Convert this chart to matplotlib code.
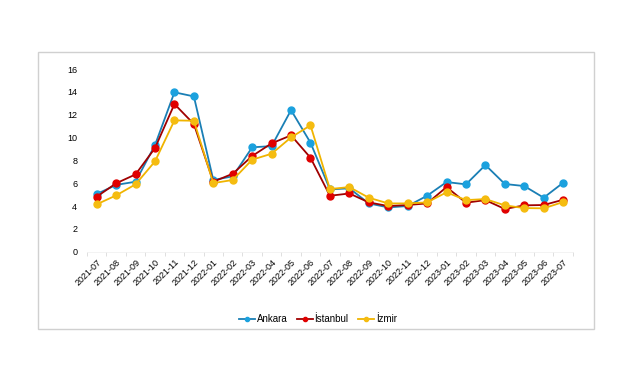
import matplotlib
matplotlib.use("Agg")
import matplotlib.pyplot as plt
from matplotlib.patches import Rectangle

plt.rcParams['font.family'] = ['Liberation Sans', 'DejaVu Sans']

months = ['2021-07', '2021-08', '2021-09', '2021-10', '2021-11', '2021-12',
          '2022-01', '2022-02', '2022-03', '2022-04', '2022-05', '2022-06',
          '2022-07', '2022-08', '2022-09', '2022-10', '2022-11', '2022-12',
          '2023-01', '2023-02', '2023-03', '2023-04', '2023-05', '2023-06', '2023-07']

ankara = [5.05, 5.85, 6.13, 9.34, 13.96, 13.6, 6.28, 6.6, 9.14, 9.25, 12.4, 9.55,
          5.46, 5.55, 4.23, 3.88, 4.0, 4.9, 6.1, 5.9, 7.59, 5.93, 5.75, 4.73, 6.04]
istanbul = [4.82, 5.99, 6.77, 9.08, 12.93, 11.18, 6.13, 6.83, 8.38, 9.49, 10.19, 8.23,
            4.9, 5.1, 4.32, 4.0, 4.09, 4.23, 5.66, 4.29, 4.52, 3.74, 4.06, 4.09, 4.55]
izmir = [4.15, 4.93, 5.9, 7.91, 11.5, 11.47, 6.01, 6.28, 8.06, 8.58, 10.01, 11.07,
         5.49, 5.66, 4.73, 4.23, 4.23, 4.32, 5.2, 4.52, 4.61, 4.06, 3.82, 3.8, 4.35]

yticks = [0, 2, 4, 6, 8, 10, 12, 14, 16]

fig = plt.figure(figsize=(6.41, 3.8), dpi=100)
fig.patches.append(Rectangle((38 / 641, 1 - 329 / 380), 556 / 641, 277 / 380,
                             transform=fig.transFigure, fill=False,
                             edgecolor='#d0d0d0', linewidth=1.0))

ax = fig.add_axes([0.1357, 0.3376, 0.758, 0.4808])
x = list(range(len(months)))

series = [
    ('Ankara', ankara, '#1a7fb5', '#1ba1de'),
    ('İstanbul', istanbul, '#a00000', '#e00000'),
    ('İzmir', izmir, '#f0b400', '#f5bc10'),
]
for name, vals, lc, mc in series:
    ax.plot(x, vals, color=lc, linewidth=1.3, marker='o', markersize=5,
            markerfacecolor=mc, markeredgecolor=mc, label=name)

ax.set_xlim(-0.5, len(months) - 0.5)
ax.set_ylim(0, 16)
ax.set_yticks(yticks)
ax.set_xticks(x)
ax.set_xticklabels(months, rotation=45, ha='right', rotation_mode='anchor', fontsize=6.5)
ax.set_xticks([i + 0.5 for i in range(-1, len(months))], minor=True)
ax.tick_params(axis='x', which='major', length=0, pad=4)
ax.tick_params(axis='x', which='minor', length=3, color='#d9d9d9')
ax.tick_params(axis='y', length=0, labelsize=6.5, pad=7)
for s in ['top', 'right', 'left']:
    ax.spines[s].set_visible(False)
ax.spines['bottom'].set_color('#eeeeee')
ax.spines['bottom'].set_linewidth(0.5)

fig.legend(loc='center', bbox_to_anchor=(0.496, 0.16), ncol=3, frameon=False,
           fontsize=7, handlelength=1.6, handletextpad=0.2, columnspacing=1.0,
           markerscale=0.6)

fig.savefig('out.png', dpi=100, facecolor='white')
